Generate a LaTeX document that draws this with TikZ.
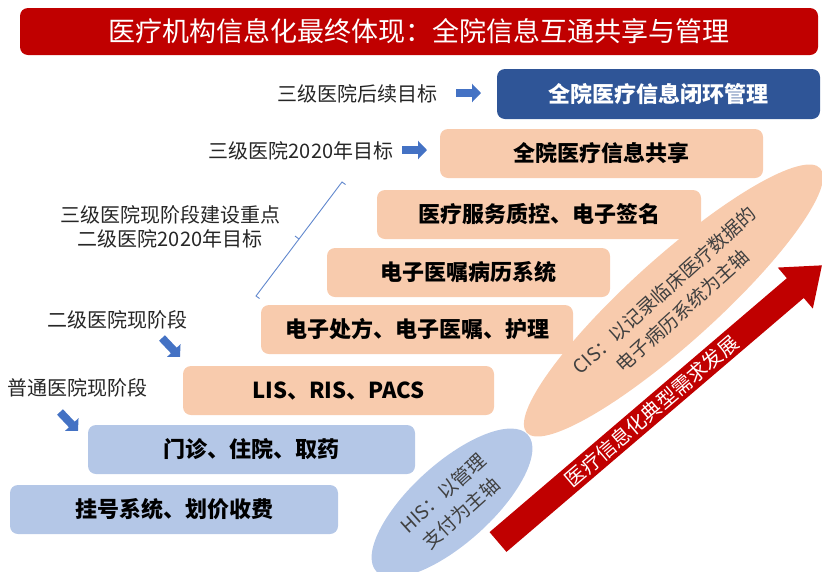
\documentclass[tikz,border=0pt]{standalone}
\usepackage{fontspec}
\setmainfont{Noto Sans CJK SC}
\usetikzlibrary{shapes.geometric,arrows.meta}
\definecolor{bannerred}{HTML}{C00000}
\definecolor{darkblue}{HTML}{2F5597}
\definecolor{peach}{HTML}{F8CBAD}
\definecolor{lightblue}{HTML}{B4C7E7}
\definecolor{arrowblue}{HTML}{4472C4}
\definecolor{labelgray}{HTML}{262626}
\definecolor{ovaltext}{HTML}{404040}
\begin{document}
\begin{tikzpicture}[x=1pt,y=-1pt,
  stagebox/.style={rounded corners=8pt, inner sep=0pt, minimum height=49pt,
    font=\fontsize{22}{26}\selectfont\bfseries},
  peachbox/.style={stagebox, fill=peach, text=black},
  bluebox/.style={stagebox, fill=lightblue, text=black},
  darkbox/.style={stagebox, fill=darkblue, text=white},
  lvllabel/.style={text=labelgray, inner sep=0pt, align=center,
    font=\fontsize{20}{24}\selectfont},
  bluearrow/.style={draw=arrowblue, line width=8pt, -{Triangle[length=9pt,width=18pt]}},
  oval/.style={ellipse, inner sep=0pt, text=ovaltext, align=center,
    font=\fontsize{19}{27}\selectfont},
  bracket/.style={draw=arrowblue!85!white, line width=0.9pt}
]
\useasboundingbox (0,0) rectangle (822,571);

% title banner
\node[fill=bannerred, rounded corners=8pt, minimum width=798pt, minimum height=47pt,
  inner sep=0pt, text=white, font=\fontsize{27}{30}\selectfont] (title) at (419,31.5)
  {医疗机构信息化最终体现：全院信息互通共享与管理};

% stage boxes
\node[darkbox, minimum width=323pt, minimum height=50pt] (b1) at (658.5,94) {全院医疗信息闭环管理};
\node[peachbox, minimum width=323pt] (b2) at (601.5,153.5) {全院医疗信息共享};
\node[peachbox, minimum width=324pt] (b3) at (539,214.5) {医疗服务质控、电子签名};
\node[peachbox, minimum width=283pt] (b4) at (468.5,272.5) {电子医嘱病历系统};
\node[peachbox, minimum width=312pt] (b5) at (417,329.5) {电子处方、电子医嘱、护理};
\node[peachbox, minimum width=311pt] (b6) at (338.5,390.5) {LIS、RIS、PACS};
\node[bluebox, minimum width=327pt] (b7) at (251.5,449.5) {门诊、住院、取药};
\node[bluebox, minimum width=328pt] (b8) at (174,509.5) {挂号系统、划价收费};

% level labels
\node[lvllabel] (l1) at (357,94) {三级医院后续目标};
\node[lvllabel] (l2) at (301,151) {三级医院2020年目标};
\node[lvllabel] (l3) at (170,227) {三级医院现阶段建设重点\\二级医院2020年目标};
\node[lvllabel] (l4) at (117,320) {二级医院现阶段};
\node[lvllabel] (l5) at (77,388) {普通医院现阶段};

% small blue arrows
\coordinate (a1s) at (456,93);  \coordinate (a1e) at (481,93);
\coordinate (a2s) at (402,150); \coordinate (a2e) at (427,150);
\coordinate (a3s) at (162,338); \coordinate (a3e) at (180,357);
\coordinate (a4s) at (60,412);  \coordinate (a4e) at (78,431);
\draw[bluearrow] (a1s) -- (a1e);
\draw[bluearrow] (a2s) -- (a2e);
\draw[bluearrow] (a3s) -- (a3e);
\draw[bluearrow] (a4s) -- (a4e);

% bracket
\coordinate (br1) at (256,296);
\coordinate (br1h) at (259.5,298.5);
\coordinate (br2) at (342,182);
\coordinate (br2h) at (345.5,184.5);
\coordinate (brm) at (299,239);
\coordinate (brmt) at (295,236);
\draw[bracket] (br1h) -- (br1) -- (br2) -- (br2h);
\draw[bracket] (brm) -- (brmt);

% ovals
\node[oval, fill=peach, minimum width=395pt, minimum height=86pt, rotate=42] (cis)
  at (673.5,300.5) {CIS：以记录临床医疗数据的\\电子病历系统为主轴};
\node[oval, fill=lightblue, minimum width=204pt, minimum height=80pt, rotate=42] (his)
  at (452,503) {HIS：以管理\\支付为主轴};

% big red arrow
\begin{scope}[shift={(498,542)}, rotate=40.5]
  \fill[bannerred] (0,-13) -- (391,-13) -- (391,-27) -- (426,0) -- (391,27) -- (391,13) -- (0,13) -- cycle;
  \node[text=white, inner sep=0pt, rotate=40.5, font=\fontsize{20}{24}\selectfont] (trend) at (202,0)
    {医疗信息化典型需求发展};
\end{scope}
\end{tikzpicture}
\end{document}
